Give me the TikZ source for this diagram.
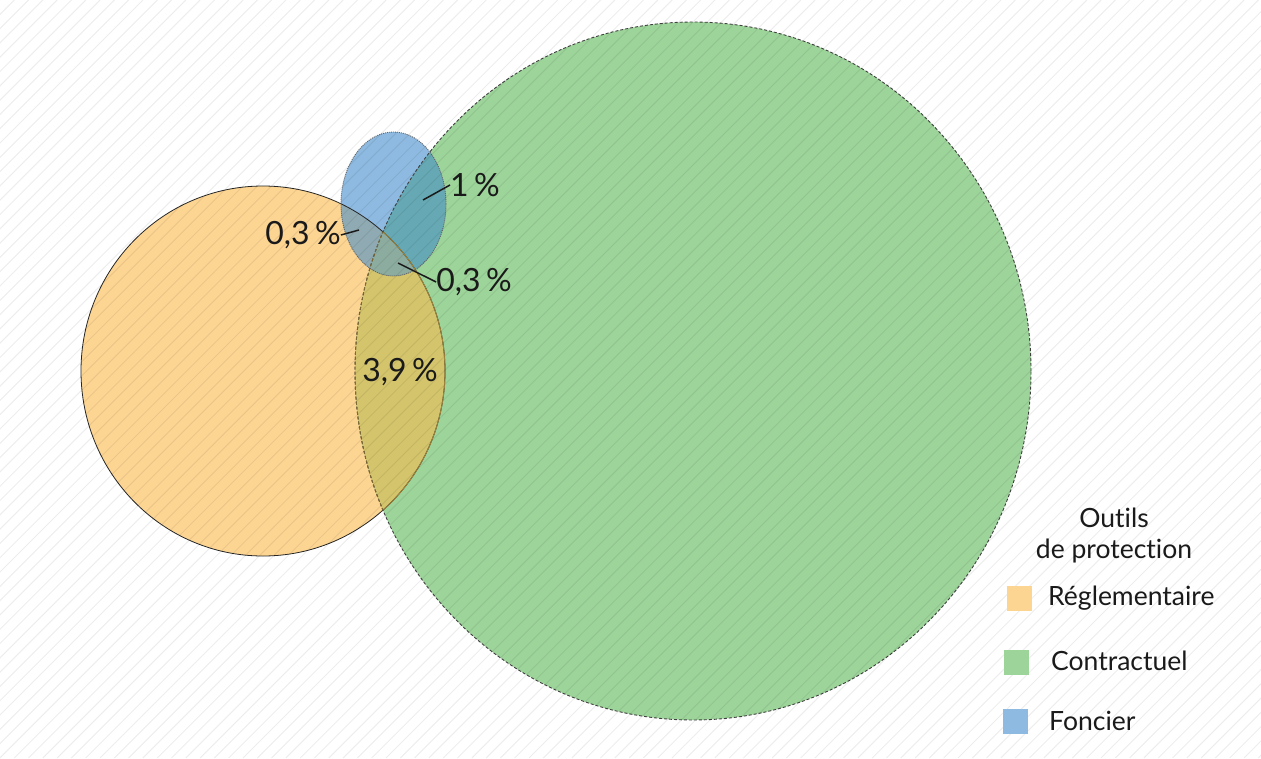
\documentclass[tikz,border=0pt]{standalone}
\usepackage{fontspec}
\setmainfont[Ligatures={NoCommon}]{Lato}
\definecolor{cOr}{HTML}{FDD593}
\definecolor{cGr}{HTML}{9DD49A}
\definecolor{cBl}{HTML}{8EBAE1}
\definecolor{cOG}{HTML}{D4C46C}
\definecolor{cBG}{HTML}{66A9B4}
\definecolor{cBO}{HTML}{8FAAB3}
\definecolor{cBOG}{HTML}{8CAC9F}
\definecolor{cTxt}{HTML}{1A1A1A}
\definecolor{cBrown}{HTML}{A0853C}
\tikzset{
  hatchline/.style={draw=black,draw opacity=0.07,line width=1pt},
  bigpct/.style={font=\fontsize{32}{38}\selectfont,text=cTxt,inner sep=0pt},
  legtxt/.style={font=\fontsize{26.5}{31}\selectfont,text=cTxt,inner sep=0pt},
  leader/.style={draw=cTxt,line width=1.5pt},
  legbox/.style={inner sep=0pt,minimum size=25pt},
}
\def\orangeP{(263,371) ellipse [x radius=182pt, y radius=185pt]}
\def\greenP{(693,371) ellipse [x radius=338pt, y radius=349pt]}
\def\blueP{(393.5,204) ellipse [x radius=52.5pt, y radius=72pt]}
\begin{document}
\begin{tikzpicture}[x=1pt,y=-1pt]
\useasboundingbox (0,0) rectangle (1261,758);
\fill[white] (0,0) rectangle (1261,758);
% fills
\fill[cOr] \orangeP;
\fill[cGr] \greenP;
\fill[cBl] \blueP;
\begin{scope}\clip \orangeP; \fill[cOG] \greenP; \end{scope}
\begin{scope}\clip \blueP; \fill[cBG] \greenP; \end{scope}
\begin{scope}\clip \blueP; \fill[cBO] \orangeP; \end{scope}
\begin{scope}\clip \blueP; \clip \orangeP; \fill[cBOG] \greenP; \end{scope}
% borders
\draw[black!85,line width=0.8pt] \orangeP;
\begin{scope}\clip \greenP; \draw[cBrown,line width=0.9pt] \orangeP; \end{scope}
\draw[black!75,line width=0.9pt,dash pattern=on 3pt off 2pt] \greenP;
\begin{scope}\clip \orangeP; \draw[cBrown!80!black,line width=0.9pt,dash pattern=on 3pt off 2pt] \greenP; \end{scope}
\draw[black!60,line width=0.9pt,dash pattern=on 1pt off 1pt] \blueP;
% hatching
\begin{scope}
\clip (0,0) rectangle (1261,758);
\foreach \c in {0,14.3,...,2030} \draw[hatchline] (\c,0) -- (\c-758,758);
\end{scope}
% labels
\node[bigpct] (p1) at (475,185) {1\,\%};
\node[bigpct] (p2) at (303,235) {0,3\,\%};
\node[bigpct] (p3) at (474,282) {0,3\,\%};
\node[bigpct] (p4) at (400,372) {3,9\,\%};
\coordinate (a1) at (423,200);
\coordinate (a2) at (359,230);
\coordinate (a3) at (398,263);
\draw[leader] (a1) -- (p1.west);
\draw[leader] (a2) -- (p2.east);
\draw[leader] (a3) -- (p3.west);
% legend
\node[legtxt,align=center] (lt) at (1114,536) {Outils\\de protection};
\node[legbox,fill=cOr] (lb1) at (1019.5,598.5) {};
\node[legbox,fill=cGr] (lb2) at (1016.5,662.5) {};
\node[legbox,fill=cBl] (lb3) at (1015.5,721.5) {};
\node[legtxt,anchor=west] (ll1) at (1048,598) {Réglementaire};
\node[legtxt,anchor=west] (ll2) at (1051,661) {Contractuel};
\node[legtxt,anchor=west] (ll3) at (1049,721) {Foncier};
\end{tikzpicture}
\end{document}
